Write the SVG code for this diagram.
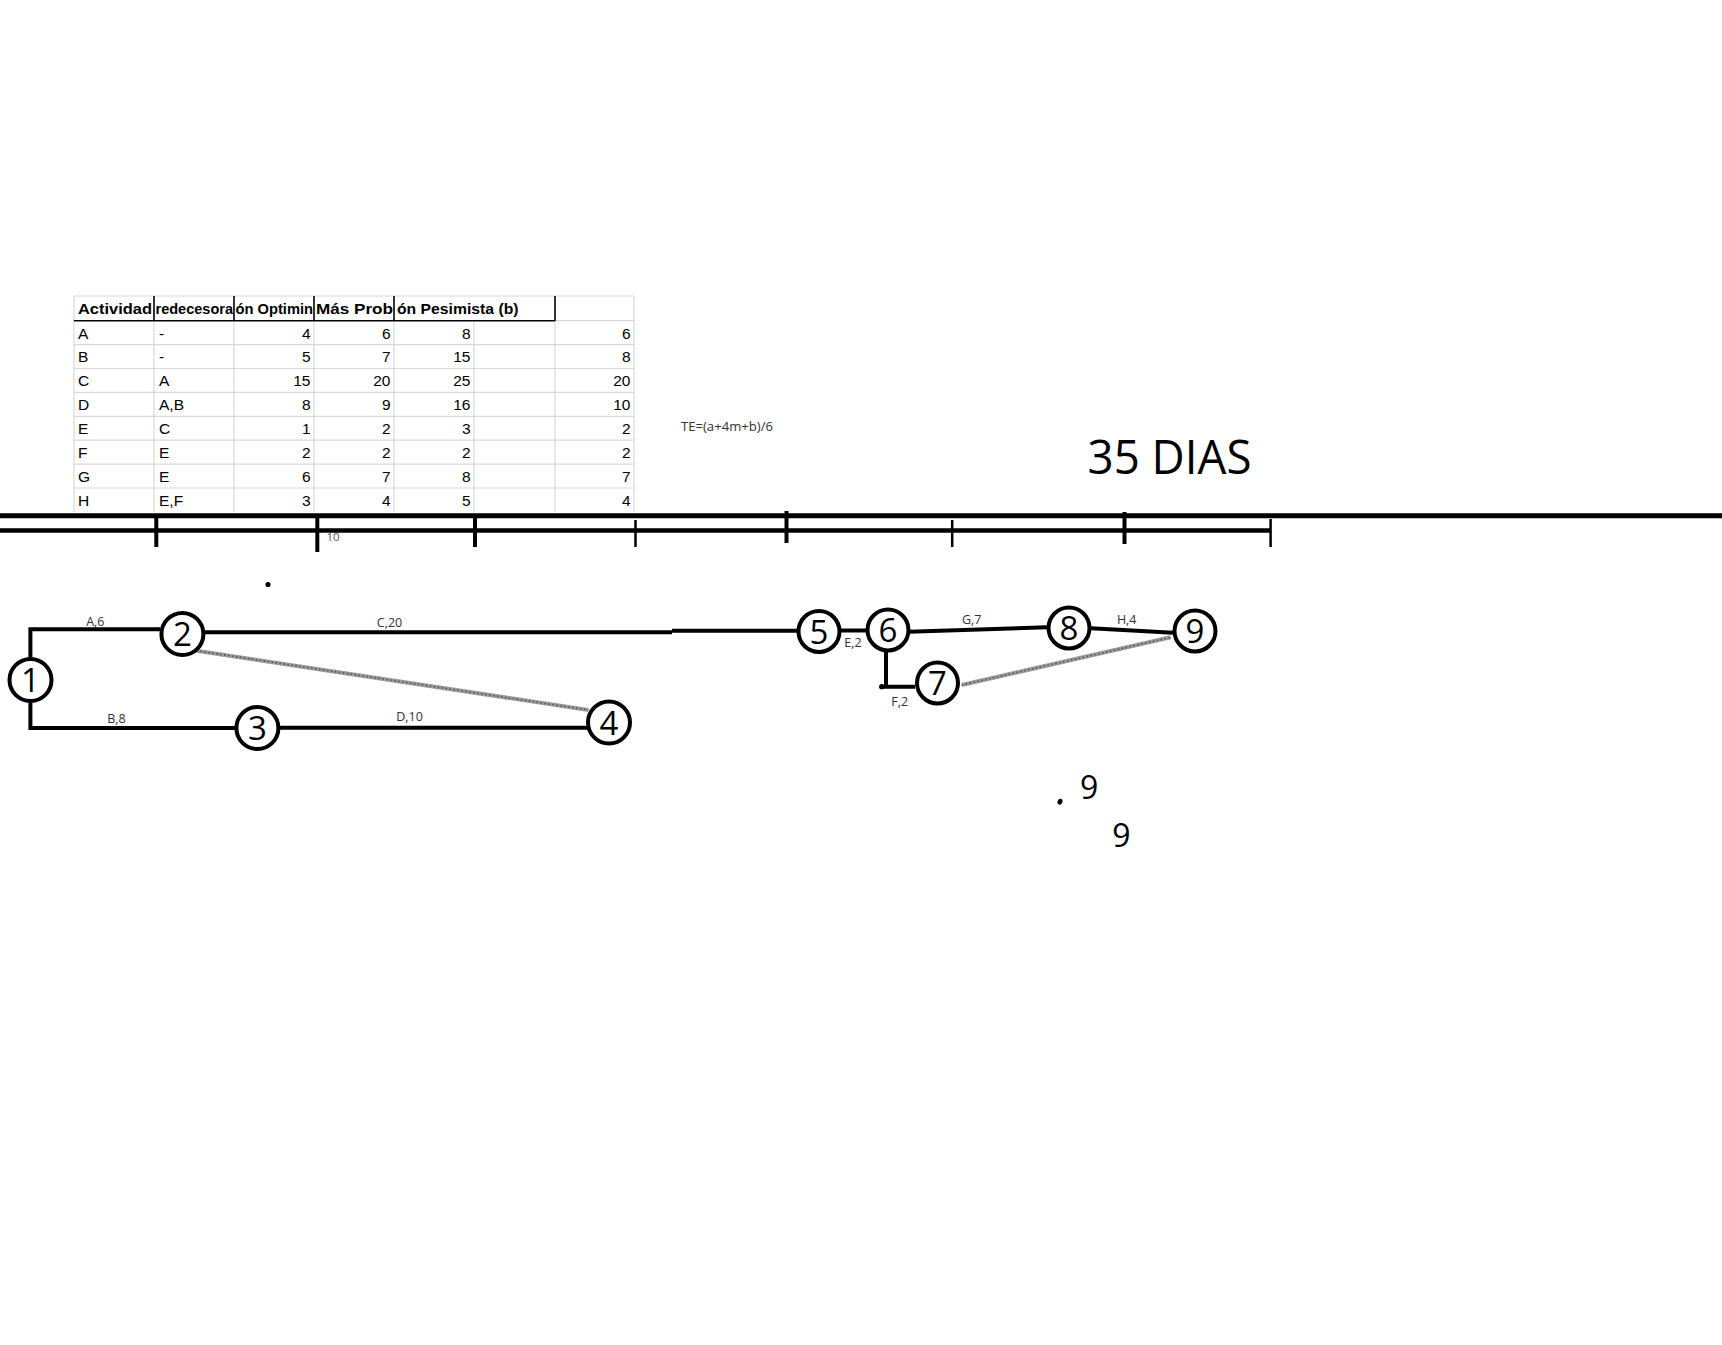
<svg xmlns="http://www.w3.org/2000/svg" width="1722" height="1345" viewBox="0 0 1722 1345">
<style>
.grid{stroke:#d9d9d9;stroke-width:1.2;fill:none}
.hb{stroke:#000;stroke-width:1.6;fill:none}
.th{font-family:"Liberation Sans Narrow","Liberation Sans",Arial,sans-serif;font-weight:bold;font-size:15px;fill:#000}
.td{font-family:"Liberation Sans Narrow","Liberation Sans",Arial,sans-serif;font-size:15.5px;fill:#000}
.num{text-anchor:end}
.tl{stroke:#000;fill:none}
.edge{stroke:#000;stroke-width:4;fill:none;stroke-linecap:butt}
.dum{stroke:#9a9a9a;stroke-width:4;fill:none}
.dumd{stroke:#555;stroke-width:1.6;stroke-dasharray:1.5 2.5;fill:none}
.node circle{fill:#fff;stroke:#000;stroke-width:4}
.node text{font-family:"Open Sans","Liberation Sans",sans-serif;font-size:33px;fill:#000;text-anchor:middle}
.lbl{font-family:"Open Sans","Liberation Sans",sans-serif;font-size:12.5px;fill:#333;text-anchor:middle}
.big{font-family:"Open Sans","Liberation Sans",sans-serif;fill:#000}
</style>
<rect width="1722" height="1345" fill="#fff"/>

<g id="table">
  <line class="grid" x1="74" y1="296" x2="634" y2="296"/>
  <line class="grid" x1="555" y1="320.7" x2="634" y2="320.7"/>
  <line class="grid" x1="74" y1="344.6" x2="634" y2="344.6"/>
  <line class="grid" x1="74" y1="368.5" x2="634" y2="368.5"/>
  <line class="grid" x1="74" y1="392.4" x2="634" y2="392.4"/>
  <line class="grid" x1="74" y1="416.3" x2="634" y2="416.3"/>
  <line class="grid" x1="74" y1="440.2" x2="634" y2="440.2"/>
  <line class="grid" x1="74" y1="464.1" x2="634" y2="464.1"/>
  <line class="grid" x1="74" y1="488" x2="634" y2="488"/>
  <line class="grid" x1="74" y1="296" x2="74" y2="512"/>
  <line class="grid" x1="154" y1="321" x2="154" y2="512"/>
  <line class="grid" x1="234" y1="321" x2="234" y2="512"/>
  <line class="grid" x1="314" y1="321" x2="314" y2="512"/>
  <line class="grid" x1="394" y1="321" x2="394" y2="512"/>
  <line class="grid" x1="474" y1="321" x2="474" y2="512"/>
  <line class="grid" x1="555" y1="321" x2="555" y2="512"/>
  <line class="grid" x1="634" y1="296" x2="634" y2="512"/>
  <line class="hb" x1="154" y1="296" x2="154" y2="321"/>
  <line class="hb" x1="234" y1="296" x2="234" y2="321"/>
  <line class="hb" x1="314" y1="296" x2="314" y2="321"/>
  <line class="hb" x1="394" y1="296" x2="394" y2="321"/>
  <line class="hb" x1="555" y1="296" x2="555" y2="321"/>
  <line class="hb" x1="74" y1="320.7" x2="555" y2="320.7" stroke-width="2"/>

  <text class="th" x="78" y="314" textLength="74" lengthAdjust="spacingAndGlyphs">Actividad</text>
  <text class="th" x="155.5" y="314" textLength="77.5" lengthAdjust="spacingAndGlyphs">redecesora</text>
  <text class="th" x="235.5" y="314" textLength="77.5" lengthAdjust="spacingAndGlyphs">ón Optimin</text>
  <text class="th" x="316" y="314" textLength="77" lengthAdjust="spacingAndGlyphs">Más Prob</text>
  <text class="th" x="397" y="314" textLength="121.5" lengthAdjust="spacingAndGlyphs">ón Pesimista (b)</text>

  <g class="td">
    <text x="78" y="338.5">A</text><text x="159" y="338.5">-</text>
    <text class="num" x="310.5" y="338.5">4</text><text class="num" x="390.5" y="338.5">6</text><text class="num" x="470.5" y="338.5">8</text><text class="num" x="630.5" y="338.5">6</text>
    <text x="78" y="362.4">B</text><text x="159" y="362.4">-</text>
    <text class="num" x="310.5" y="362.4">5</text><text class="num" x="390.5" y="362.4">7</text><text class="num" x="470.5" y="362.4">15</text><text class="num" x="630.5" y="362.4">8</text>
    <text x="78" y="386.3">C</text><text x="159" y="386.3">A</text>
    <text class="num" x="310.5" y="386.3">15</text><text class="num" x="390.5" y="386.3">20</text><text class="num" x="470.5" y="386.3">25</text><text class="num" x="630.5" y="386.3">20</text>
    <text x="78" y="410.2">D</text><text x="159" y="410.2">A,B</text>
    <text class="num" x="310.5" y="410.2">8</text><text class="num" x="390.5" y="410.2">9</text><text class="num" x="470.5" y="410.2">16</text><text class="num" x="630.5" y="410.2">10</text>
    <text x="78" y="434.1">E</text><text x="159" y="434.1">C</text>
    <text class="num" x="310.5" y="434.1">1</text><text class="num" x="390.5" y="434.1">2</text><text class="num" x="470.5" y="434.1">3</text><text class="num" x="630.5" y="434.1">2</text>
    <text x="78" y="458">F</text><text x="159" y="458">E</text>
    <text class="num" x="310.5" y="458">2</text><text class="num" x="390.5" y="458">2</text><text class="num" x="470.5" y="458">2</text><text class="num" x="630.5" y="458">2</text>
    <text x="78" y="481.9">G</text><text x="159" y="481.9">E</text>
    <text class="num" x="310.5" y="481.9">6</text><text class="num" x="390.5" y="481.9">7</text><text class="num" x="470.5" y="481.9">8</text><text class="num" x="630.5" y="481.9">7</text>
    <text x="78" y="505.8">H</text><text x="159" y="505.8">E,F</text>
    <text class="num" x="310.5" y="505.8">3</text><text class="num" x="390.5" y="505.8">4</text><text class="num" x="470.5" y="505.8">5</text><text class="num" x="630.5" y="505.8">4</text>
  </g>
</g>

<text id="formula" x="681" y="431" font-family="'Open Sans','Liberation Sans',sans-serif" font-size="12.5" fill="#333" textLength="92" lengthAdjust="spacingAndGlyphs">TE=(a+4m+b)/6</text>
<text id="total" class="big" x="1087.5" y="474" font-size="47.5" textLength="164" lengthAdjust="spacingAndGlyphs">35 DIAS</text>

<g id="timeline">
  <line class="tl" x1="0" y1="515.8" x2="1722" y2="515.8" stroke-width="5"/>
  <line class="tl" x1="0" y1="530.5" x2="1270.6" y2="530.5" stroke-width="4.5"/>
  <line class="tl" x1="156.3" y1="517" x2="156.3" y2="547" stroke-width="4"/>
  <line class="tl" x1="317.3" y1="517" x2="317.3" y2="552" stroke-width="4"/>
  <line class="tl" x1="475" y1="517" x2="475" y2="547" stroke-width="4"/>
  <line class="tl" x1="635.5" y1="520" x2="635.5" y2="547" stroke-width="2.5"/>
  <line class="tl" x1="786.5" y1="511" x2="786.5" y2="543" stroke-width="4"/>
  <line class="tl" x1="952.2" y1="520" x2="952.2" y2="547" stroke-width="2.5"/>
  <line class="tl" x1="1124.5" y1="512" x2="1124.5" y2="544" stroke-width="4"/>
  <line class="tl" x1="1270.6" y1="519" x2="1270.6" y2="547" stroke-width="2.5"/>
  <text x="326.5" y="541" font-family="'Open Sans','Liberation Sans',sans-serif" font-size="11.5" fill="#555">10</text>
</g>

<circle cx="268" cy="584.5" r="2.6" fill="#000"/>

<g id="connectors">
  <polyline class="edge" points="30.4,658 30.4,629.3 160,629.3"/>
  <polyline class="edge" points="30.4,701 30.4,728 236,728"/>
  <polyline class="edge" points="204,632.3 672,632.3"/>
  <polyline class="edge" points="672,630.7 799,630.7"/>
  <line class="edge" x1="278" y1="727.7" x2="588" y2="727.7"/>
  <line class="edge" x1="840" y1="630.5" x2="868" y2="630.5"/>
  <polyline class="edge" points="886,650 886,686.7 881.7,686.7 915,686.7"/>
  <circle cx="881.7" cy="686.7" r="2.6" fill="#000"/>
  <line class="edge" x1="909" y1="631.7" x2="1047" y2="627.3"/>
  <line class="edge" x1="1091" y1="628.3" x2="1173" y2="632.7"/>
  <line class="dum" x1="196.4" y1="650.7" x2="588.4" y2="710"/>
  <line class="dumd" x1="196.4" y1="650.7" x2="588.4" y2="710"/>
  <line class="dum" x1="961.7" y1="685" x2="1170.7" y2="637.3"/>
  <line class="dumd" x1="961.7" y1="685" x2="1170.7" y2="637.3"/>
  <text class="lbl" x="95.3" y="626">A,6</text>
  <text class="lbl" x="116.5" y="722.6">B,8</text>
  <text class="lbl" x="389.5" y="627">C,20</text>
  <text class="lbl" x="409.6" y="721">D,10</text>
  <text class="lbl" x="853" y="647.3">E,2</text>
  <text class="lbl" x="899.7" y="706">F,2</text>
  <text class="lbl" x="971.7" y="624.3">G,7</text>
  <text class="lbl" x="1126.7" y="624.3">H,4</text>
</g>

<g id="n1" class="node"><circle cx="30.5" cy="680" r="21"/><text x="30.5" y="692">1</text></g>
<g id="n2" class="node"><circle cx="182.4" cy="634" r="21"/><text x="182.4" y="646">2</text></g>
<g id="n3" class="node"><circle cx="257.4" cy="728" r="21"/><text x="257.4" y="740">3</text></g>
<g id="n4" class="node"><circle cx="609" cy="722.5" r="21"/><text x="609" y="734.5">4</text></g>
<g id="n5" class="node"><circle cx="819" cy="631.5" r="20.5"/><text x="819" y="643.5">5</text></g>
<g id="n6" class="node"><circle cx="888" cy="630" r="20.5"/><text x="888" y="642">6</text></g>
<g id="n7" class="node"><circle cx="937.5" cy="683" r="20.5"/><text x="937.5" y="695">7</text></g>
<g id="n8" class="node"><circle cx="1069" cy="628" r="20.5"/><text x="1069" y="640">8</text></g>
<g id="n9" class="node"><circle cx="1195" cy="631" r="20.5"/><text x="1195" y="643">9</text></g>

<ellipse cx="1060" cy="801.7" rx="2.4" ry="3" fill="#000" transform="rotate(25 1060 801.7)"/>
<text class="big" x="1089.2" y="799.3" font-size="32" text-anchor="middle">9</text>
<text class="big" x="1121.3" y="847.3" font-size="32" text-anchor="middle">9</text>
</svg>
